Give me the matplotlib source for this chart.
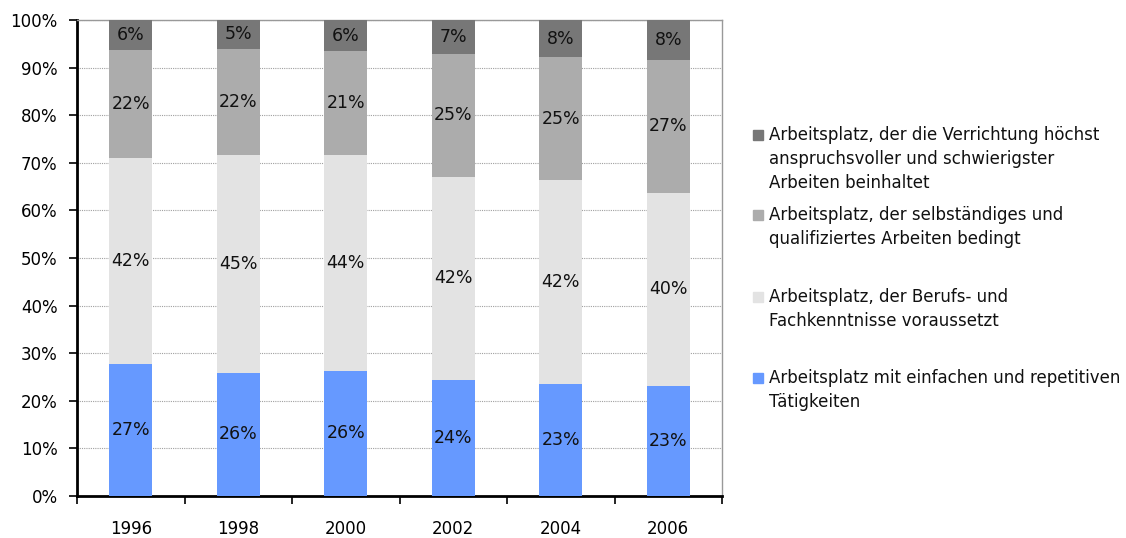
import matplotlib
matplotlib.use("Agg")
import matplotlib.pyplot as plt
from matplotlib.patches import Rectangle
import numpy as np

plt.rcParams['font.family'] = ['DejaVu Sans']

# data (segment heights in % of the 100% stack)
years = ['1996', '1998', '2000', '2002', '2004', '2006']
einfach = [27.8, 25.9, 26.3, 24.4, 23.5, 23.2]
fachkennt = [43.3, 45.8, 45.3, 42.7, 42.9, 40.5]
selbst = [22.6, 22.3, 21.8, 25.7, 25.8, 27.9]
hoechst = [6.3, 6.0, 6.6, 7.2, 7.8, 8.4]

# labels as printed on the bars
lab_einfach = ['27%', '26%', '26%', '24%', '23%', '23%']
lab_fachkennt = ['42%', '45%', '44%', '42%', '42%', '40%']
lab_selbst = ['22%', '22%', '21%', '25%', '25%', '27%']
lab_hoechst = ['6%', '5%', '6%', '7%', '8%', '8%']

series_names = [
    'Arbeitsplatz mit einfachen und repetitiven\nTätigkeiten',
    'Arbeitsplatz, der Berufs- und\nFachkenntnisse voraussetzt',
    'Arbeitsplatz, der selbständiges und\nqualifiziertes Arbeiten bedingt',
    'Arbeitsplatz, der die Verrichtung höchst\nanspruchsvoller und schwierigster\nArbeiten beinhaltet',
]
colors = ['#6699ff', '#e3e3e3', '#acacac', '#777777']

W, H = 1126, 538
fig = plt.figure(figsize=(W / 100, H / 100), dpi=100)
ax = fig.add_axes([77 / W, 1 - 496 / H, (722 - 77) / W, (496 - 20) / H])

x = np.arange(len(years))
bottom = np.zeros(len(years))
all_vals = [einfach, fachkennt, selbst, hoechst]
all_labs = [lab_einfach, lab_fachkennt, lab_selbst, lab_hoechst]
for vals, labs, col in zip(all_vals, all_labs, colors):
    vals = np.array(vals)
    ax.bar(x, vals, 0.4, bottom=bottom, color=col, zorder=3)
    for xi, b, v, t in zip(x, bottom, vals, labs):
        ax.text(xi, b + v / 2, t, ha='center', va='center', fontsize=12.5,
                color='#111111', zorder=4)
    bottom += vals

ax.set_xlim(-0.5, len(years) - 0.5)
ax.set_ylim(0, 100)
ax.set_yticks(np.arange(0, 101, 10))
ax.set_yticklabels([f'{v}%' for v in range(0, 101, 10)], fontsize=12)
ax.yaxis.grid(True, linestyle=(0, (1, 1)), color='#a0a0a0', linewidth=0.8, zorder=0)

ax.set_xticks(x)
ax.set_xticklabels(years, fontsize=12)
ax.set_xticks(np.arange(-0.5, len(years)), minor=True)
ax.tick_params(axis='x', which='major', length=0, pad=17)
ax.tick_params(axis='x', which='minor', length=6, width=1.2, direction='out')
ax.tick_params(axis='y', length=6, width=1.2, direction='out', pad=8)

for s in ['left', 'bottom']:
    ax.spines[s].set_linewidth(2)
    ax.spines[s].set_color('black')
for s in ['top', 'right']:
    ax.spines[s].set_color('#999999')
    ax.spines[s].set_linewidth(1)

# legend, drawn by hand with fixed slots like the original
leg_tops = [135, 215, 297, 378]
for name, col, top in zip(series_names[::-1], colors[::-1], leg_tops):
    fig.patches.append(Rectangle((753 / W, 1 - (top + 5) / H), 10 / W, 10 / H,
                                 transform=fig.transFigure, color=col))
    fig.text(769 / W, 1 - (top - 9) / H, name, ha='left', va='top',
             fontsize=12, linespacing=1.42, color='#111111')

fig.savefig('out.png', dpi=100)
